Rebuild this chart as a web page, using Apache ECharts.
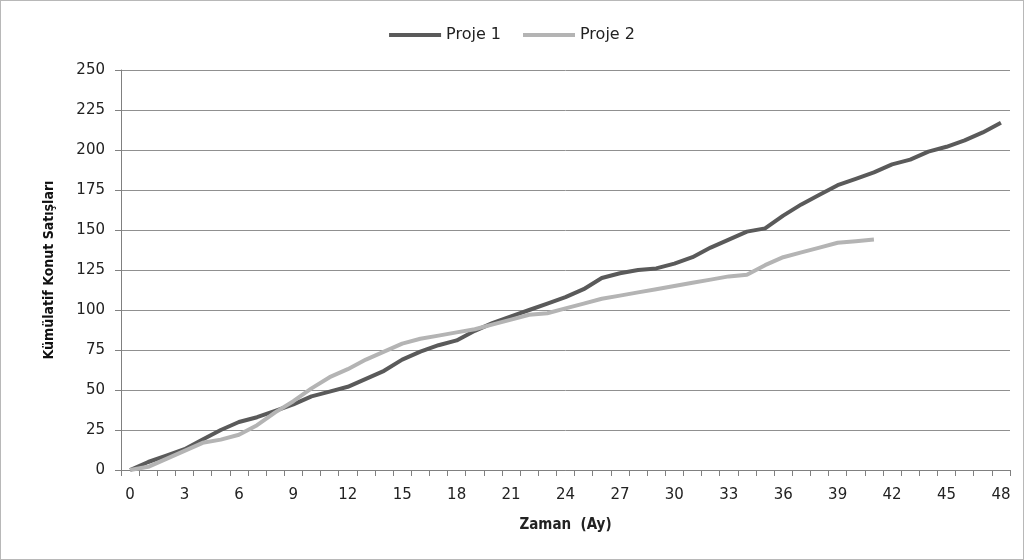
<!DOCTYPE html>
<html>
<head>
<meta charset="utf-8">
<script src="https://cdn.jsdelivr.net/npm/echarts@6/dist/echarts.min.js"></script>
<style>
html,body{margin:0;padding:0;background:#fff;}
#c{width:1022px;height:558px;border:1px solid #b8b8b8;}
</style>
</head>
<body>
<div id="c"></div>
<script>
const categories = [];
for (let i = 0; i <= 48; i++) categories.push(String(i));
const proje1 = [0,5,9,13,19,25,30,33,37,41,46,49,52,57,62,69,74,78,81,87,92,96,100,104,108,113,120,123,125,126,129,133,139,144,149,151,159,166,172,178,182,186,191,194,199,202,206,211,217];
const proje2 = [0,2,7,12,17,19,22,28,36,43,51,58,63,69,74,79,82,84,86,88,91,94,97,98,101,104,107,109,111,113,115,117,119,121,122,128,133,136,139,142,143,144];
const seriesNames = ['Proje 1','Proje 2'];
const yTicks = {min:0, max:250, interval:25};

const chart = echarts.init(document.getElementById('c'));
const font = 'DejaVu Sans';
const cond = "'DejaVu Sans Condensed', 'DejaVu Sans'";
chart.setOption({
  animation:false,
  backgroundColor:'#fff',
  legend:{
    top:21, left:'center',
    itemWidth:52, itemHeight:4, itemGap:22,
    icon:'rect',
    textStyle:{fontFamily:font,fontSize:16,color:'#222'},
    data:seriesNames
  },
  grid:{left:120,right:13,top:69,bottom:89},
  xAxis:{
    type:'category',
    data:categories,
    boundaryGap:true,
    name:'Zaman  (Ay)',
    nameLocation:'middle',
    nameGap:48,
    nameTextStyle:{fontFamily:cond,fontSize:15,fontWeight:'bold',color:'#222'},
    axisLine:{lineStyle:{color:'#808080',width:1}},
    axisTick:{show:true,interval:0,length:6,lineStyle:{color:'#808080'}},
    axisLabel:{interval:2,margin:18,fontFamily:font,fontSize:15,color:'#222'},
    splitLine:{show:false}
  },
  yAxis:{
    type:'value',
    min:yTicks.min,max:yTicks.max,interval:yTicks.interval,
    name:'Kümülatif Konut Satışları',
    nameLocation:'middle',
    nameGap:65,
    nameTextStyle:{fontFamily:cond,fontSize:14,fontWeight:'bold',color:'#111'},
    axisLine:{show:true,lineStyle:{color:'#808080',width:1}},
    axisTick:{show:true,length:6,lineStyle:{color:'#808080'}},
    axisLabel:{margin:16,fontFamily:font,fontSize:15,color:'#222'},
    splitLine:{lineStyle:{color:'#909090',width:1}}
  },
  series:[
    {name:seriesNames[0],type:'line',data:proje1,symbol:'none',smooth:false,
     lineStyle:{color:'#5a5a5a',width:4},itemStyle:{color:'#5a5a5a'}},
    {name:seriesNames[1],type:'line',data:proje2,symbol:'none',smooth:false,
     lineStyle:{color:'#b4b4b4',width:4},itemStyle:{color:'#b4b4b4'}}
  ]
});
</script>
</body>
</html>
